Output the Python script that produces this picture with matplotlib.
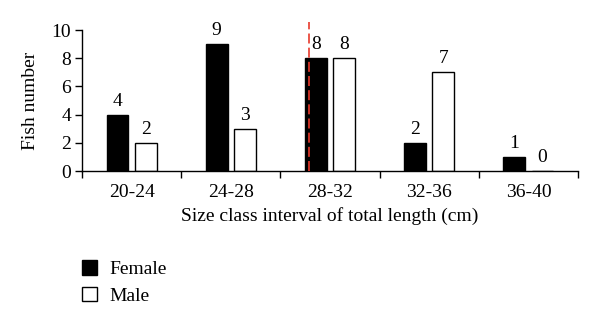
import numpy as np
import matplotlib
matplotlib.use("Agg")
from matplotlib import pyplot as plt
from matplotlib.patches import Patch

plt.rcParams['font.family'] = ['Liberation Serif', 'DejaVu Serif']

classes = ["20-24", "24-28", "28-32", "32-36", "36-40"]
female = [4, 9, 8, 2, 1]
male = [2, 3, 8, 7, 0]
maturity_x = 1.79  # dashed marker inside the 28-32 class

fs = 14

fig = plt.figure(figsize=(6, 3.24), dpi=100)
ax = fig.add_axes([0.1367, 0.4722, 0.8266, 0.4352])

x = np.arange(len(classes))
w = 0.22
off = 0.142
ax.bar(x - off, female, w, color="black", edgecolor="black", linewidth=1)
ax.bar(x + off, male, w, color="white", edgecolor="black", linewidth=1)

for xi, v in zip(x, female):
    ax.text(xi - off, v + 0.35, str(v), ha="center", va="bottom", fontsize=fs)
for xi, v in zip(x, male):
    ax.text(xi + off, v + 0.35, str(v), ha="center", va="bottom", fontsize=fs)

ax.plot([maturity_x, maturity_x], [0, 10.6], color="#e8392b", linestyle=(0, (6, 2.5)),
        linewidth=1.2, clip_on=False, zorder=5)

ax.set_xlim(-0.5, len(classes) - 0.5)
ax.set_ylim(0, 10)
ax.set_yticks([0, 2, 4, 6, 8, 10])
ax.set_xticks(x)
ax.set_xticklabels(classes)
ax.set_xticks(np.arange(-0.5, len(classes), 1), minor=True)
ax.tick_params(axis="x", which="major", length=0, pad=9, labelsize=fs)
ax.tick_params(axis="x", which="minor", length=5, width=1, direction="out")
ax.tick_params(axis="y", length=5, width=1, direction="out", labelsize=fs, pad=3)

for s in ["top", "right"]:
    ax.spines[s].set_visible(False)
ax.spines["left"].set_linewidth(1)
ax.spines["bottom"].set_linewidth(1)

ax.set_xlabel("Size class interval of total length (cm)", fontsize=fs, labelpad=5)
ax.set_ylabel("Fish number", fontsize=fs, labelpad=9)

handles = [Patch(facecolor="black", edgecolor="black", label="Female"),
           Patch(facecolor="white", edgecolor="black", label="Male")]
fig.legend(handles=handles, loc="upper left", bbox_to_anchor=(0.1367, 0.196),
           frameon=False, fontsize=fs, handlelength=0.77, handleheight=0.75,
           handletextpad=0.65, labelspacing=0.45, borderpad=0, borderaxespad=0)

fig.savefig("out.png", dpi=100)
